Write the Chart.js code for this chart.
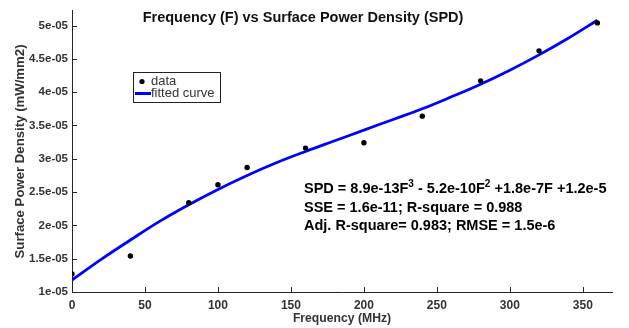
<!DOCTYPE html>
<html><head><meta charset="utf-8">
<script src="https://cdn.jsdelivr.net/npm/chart.js@4.4.0/dist/chart.umd.min.js"></script>
<style>html,body{margin:0;padding:0;background:#fff;}#wrap{width:629px;height:328px;}</style>
</head><body><div id="wrap"><canvas id="c" width="629" height="328"></canvas></div>
<script>
// ---- data ----
const freqData = [0, 40, 80, 100, 120, 160, 200, 240, 280, 320, 360];
const spdData  = [1.27e-5, 1.54e-5, 2.34e-5, 2.61e-5, 2.87e-5, 3.16e-5, 3.24e-5, 3.64e-5, 4.17e-5, 4.62e-5, 5.04e-5];
const freqFit  = [0, 20, 40, 60, 80, 100, 120, 140, 160, 180, 200, 220, 240, 260, 280, 300, 320, 340, 360];
const spdFit   = [1.18e-5, 1.49e-5, 1.78e-5, 2.06e-5, 2.31e-5, 2.54e-5, 2.75e-5, 2.94e-5, 3.11e-5, 3.27e-5, 3.43e-5, 3.59e-5, 3.75e-5, 3.93e-5, 4.12e-5, 4.33e-5, 4.56e-5, 4.81e-5, 5.08e-5];
const xTicks = [0, 50, 100, 150, 200, 250, 300, 350];
const xTickLabels = ['0', '50', '100', '150', '200', '250', '300', '350'];
const yTicks = [1e-5, 1.5e-5, 2e-5, 2.5e-5, 3e-5, 3.5e-5, 4e-5, 4.5e-5, 5e-5];
const yTickLabels = ['1e-05', '1.5e-05', '2e-05', '2.5e-05', '3e-05', '3.5e-05', '4e-05', '4.5e-05', '5e-05'];
const seriesNames = ['data', 'fitted curve'];
const titleText = 'Frequency (F) vs Surface Power Density (SPD)';
const xTitle = 'Frequency (MHz)';
const yTitle = 'Surface Power Density (mW/mm2)';
// fit annotation: segments [text, isSuperscript]
const fitLine1 = [['SPD = 8.9e-13F', false], ['3', true], [' - 5.2e-10F', false], ['2', true], [' +1.8e-7F +1.2e-5', false]];
const fitLine2 = 'SSE = 1.6e-11; R-square = 0.988';
const fitLine3 = 'Adj. R-square= 0.983; RMSE = 1.5e-6';

const FONT = '"Liberation Sans", Arial, sans-serif';
const AX = '#262626';

const extras = {
  id: 'extras',
  afterDraw(chart) {
    const ctx = chart.ctx;
    const xs = chart.scales.x, ys = chart.scales.y;
    const ca = chart.chartArea;
    ctx.save();
    // inward ticks
    ctx.strokeStyle = AX; ctx.lineWidth = 1;
    ctx.beginPath();
    xTicks.forEach(v => { const p = Math.round(xs.getPixelForValue(v)) + 0.5; ctx.moveTo(p, ca.bottom); ctx.lineTo(p, ca.bottom - 5); });
    yTicks.forEach(v => { const p = Math.round(ys.getPixelForValue(v)) + 0.5; ctx.moveTo(ca.left, p); ctx.lineTo(ca.left + 5, p); });
    ctx.stroke();
    // title
    ctx.fillStyle = '#111';
    ctx.font = 'bold 14.5px ' + FONT;
    ctx.textAlign = 'center'; ctx.textBaseline = 'middle';
    ctx.fillText(titleText, 303, 18);
    // legend
    ctx.fillStyle = '#fff';
    ctx.fillRect(133, 72, 87, 30);
    ctx.strokeStyle = '#222'; ctx.lineWidth = 1;
    ctx.strokeRect(133.5, 72.5, 87, 30);
    ctx.fillStyle = '#000';
    ctx.beginPath(); ctx.arc(142, 81.5, 2.6, 0, Math.PI * 2); ctx.fill();
    ctx.strokeStyle = '#0000ff'; ctx.lineWidth = 3;
    ctx.beginPath(); ctx.moveTo(135, 93.5); ctx.lineTo(151, 93.5); ctx.stroke();
    ctx.fillStyle = '#333';
    ctx.font = '13px ' + FONT;
    ctx.textAlign = 'left'; ctx.textBaseline = 'middle';
    ctx.fillText(seriesNames[0], 151, 81.5);
    ctx.fillText(seriesNames[1], 151, 93.5);
    // fit annotation
    ctx.fillStyle = '#000';
    let x = 304;
    fitLine1.forEach(([t, sup]) => {
      ctx.font = (sup ? 'bold 10px ' : 'bold 14.5px ') + FONT;
      ctx.fillText(t, x, sup ? 184 : 189);
      x += ctx.measureText(t).width;
    });
    ctx.font = 'bold 14.5px ' + FONT;
    ctx.fillText(fitLine2, 304, 207.5);
    ctx.fillText(fitLine3, 304, 225.5);
    ctx.restore();
  }
};

new Chart(document.getElementById('c'), {
  type: 'scatter',
  data: {
    datasets: [
      { label: seriesNames[0], data: freqData.map((f, i) => ({ x: f, y: spdData[i] })),
        pointRadius: 2.7, pointBackgroundColor: '#000', pointBorderWidth: 0, showLine: false, order: 1 },
      { label: seriesNames[1], data: freqFit.map((f, i) => ({ x: f, y: spdFit[i] })),
        showLine: true, pointRadius: 0, borderColor: '#0000ff', borderWidth: 2.8,
        tension: 0.4, order: 2 }
    ]
  },
  options: {
    responsive: false, animation: false,
    layout: { padding: { left: 0, top: 5, right: 17, bottom: 0 } },
    plugins: { legend: { display: false }, tooltip: { enabled: false } },
    scales: {
      x: {
        type: 'linear', min: 0, max: 370,
        afterFit(s) { s.height = 36; },
        afterBuildTicks(s) { s.ticks = xTicks.map(v => ({ value: v })); },
        grid: { display: false, drawTicks: false },
        border: { display: true, color: AX, width: 1 },
        ticks: { padding: 6, color: '#333', font: { family: FONT, size: 12, weight: 'bold' },
                 callback: (v) => xTickLabels[xTicks.indexOf(v)], maxRotation: 0 },
        title: { display: true, text: xTitle, color: '#333', font: { family: FONT, size: 12.2, weight: 'bold' },
                 padding: { top: 0, bottom: 2 } }
      },
      y: {
        type: 'linear', min: 1e-5, max: 5.22e-5,
        afterFit(s) { s.width = 72; },
        afterBuildTicks(s) { s.ticks = yTicks.map(v => ({ value: v })); },
        grid: { display: false, drawTicks: false },
        border: { display: true, color: AX, width: 1 },
        ticks: { padding: 4, color: '#333', font: { family: FONT, size: 11.5, weight: 'bold' },
                 callback: (v) => { const i = yTicks.findIndex(t => Math.abs(t - v) < 1e-9); return i >= 0 ? yTickLabels[i] : ''; } },
        title: { display: true, text: yTitle, color: '#333', font: { family: FONT, size: 13.2, weight: 'bold' },
                 padding: { top: 12, bottom: 0 } }
      }
    }
  },
  plugins: [extras]
});
</script></body></html>
